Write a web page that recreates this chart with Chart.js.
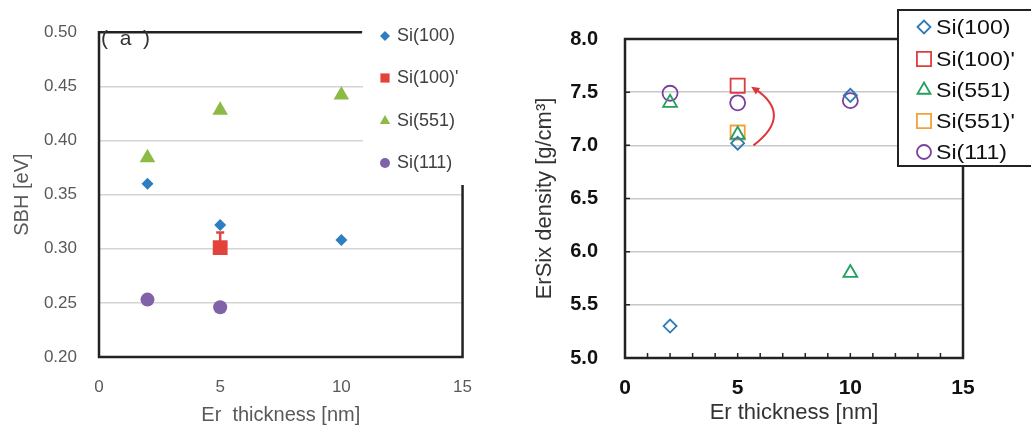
<!DOCTYPE html>
<html>
<head>
<meta charset="utf-8">
<script src="https://cdn.jsdelivr.net/npm/chart.js@4.4.0/dist/chart.umd.min.js"></script>
<style>
body { margin: 0; background: #fff; width: 1031px; height: 428px; overflow: hidden; position: relative; }
#boxA { position: absolute; left: 0; top: 0; width: 492px; height: 428px; }
#boxB { position: absolute; left: 520px; top: 0; width: 511px; height: 428px; }
</style>
</head>
<body>
<div id="boxA"><canvas id="sbh"></canvas></div>
<div id="boxB"><canvas id="density"></canvas></div>
<script>
var thicknessTicks = [0, 5, 10, 15];

// (a) SBH [eV] vs Er thickness
var sbhSi100X = [2, 5, 10];
var sbhSi100 = [0.360, 0.322, 0.308];
var sbhSi100pX = [5];
var sbhSi100p = [0.301];
var sbhSi100pErr = [0.014];
var sbhSi551X = [2, 5, 10];
var sbhSi551 = [0.384, 0.428, 0.442];
var sbhSi111X = [2, 5];
var sbhSi111 = [0.253, 0.246];
var sbhLabels = ["Si(100)", "Si(100)'", "Si(551)", "Si(111)"];

// (b) ErSix density [g/cm3] vs Er thickness
var denSi100X = [2, 5, 10];
var denSi100 = [5.30, 7.02, 7.47];
var denSi100pX = [5];
var denSi100p = [7.56];
var denSi551X = [2, 5, 10];
var denSi551 = [7.40, 7.10, 5.80];
var denSi551pX = [5];
var denSi551p = [7.12];
var denSi111X = [2, 5, 10];
var denSi111 = [7.49, 7.40, 7.42];
var denLabels = ["Si(100)", "Si(100)'", "Si(551)", "Si(551)'", "Si(111)"];
// arrow: start, control, end (in data units)
var arrowPath = [[5.7, 7.0], [7.5, 7.29], [5.6, 7.55]];

var FONT = "'Liberation Sans', Arial, sans-serif";

function pts(xs, ys) {
  return xs.map(function (x, i) { return { x: x, y: ys[i] }; });
}

function mark(ctx, style, r, fill, stroke, bw, x, y) {
  ctx.save();
  ctx.fillStyle = fill;
  ctx.strokeStyle = stroke;
  ctx.lineWidth = bw;
  Chart.helpers.drawPoint(ctx, { pointStyle: style, radius: r, rotation: 0, borderWidth: bw }, x, y);
  ctx.restore();
}

// ---------- chart (a) ----------
var colA = ["#2e7dc2", "#e2443c", "#8cbb45", "#8062a9"];

var frameA = {
  id: 'frameA',
  afterDraw: function (chart) {
    var ctx = chart.ctx, ca = chart.chartArea;
    var x = chart.scales.x, y = chart.scales.y;
    ctx.save();
    // legend area over the plot
    ctx.fillStyle = '#fff';
    ctx.fillRect(363, 0, 140, 183);
    // error bar on Si(100)'
    var ex = x.getPixelForValue(sbhSi100pX[0]);
    var e0 = y.getPixelForValue(sbhSi100p[0]);
    var e1 = y.getPixelForValue(sbhSi100p[0] + sbhSi100pErr[0]);
    ctx.strokeStyle = colA[1];
    ctx.lineWidth = 2.5;
    ctx.beginPath();
    ctx.moveTo(ex, e0); ctx.lineTo(ex, e1);
    ctx.moveTo(ex - 4, e1); ctx.lineTo(ex + 4, e1);
    ctx.stroke();
    // frame
    ctx.strokeStyle = '#222';
    ctx.lineWidth = 2.5;
    ctx.beginPath();
    ctx.moveTo(362, ca.top); ctx.lineTo(ca.left, ca.top);
    ctx.lineTo(ca.left, ca.bottom); ctx.lineTo(ca.right, ca.bottom);
    ctx.lineTo(ca.right, 185);
    ctx.stroke();
    // panel label
    ctx.fillStyle = '#333';
    ctx.font = '21px ' + FONT;
    ctx.textBaseline = 'middle';
    ctx.fillText('(  a  )', 101, 39);
    // legend
    var styles = ['rectRot', 'rect', 'triangle', 'circle'];
    var radii = [5, 6.5, 6, 5];
    var ys = [36, 78, 121, 163];
    ctx.font = '18px ' + FONT;
    for (var i = 0; i < 4; i++) {
      mark(ctx, styles[i], radii[i], colA[i], colA[i], 0, 385, ys[i]);
      ctx.fillStyle = '#404040';
      ctx.fillText(sbhLabels[i], 397, ys[i]);
    }
    ctx.restore();
  }
};

new Chart(document.getElementById('sbh'), {
  type: 'scatter',
  data: {
    datasets: [
      { label: sbhLabels[0], data: pts(sbhSi100X, sbhSi100), pointStyle: 'rectRot', pointRadius: 6, backgroundColor: colA[0], borderColor: colA[0], borderWidth: 0 },
      { label: sbhLabels[1], data: pts(sbhSi100pX, sbhSi100p), pointStyle: 'rect', pointRadius: 10.5, backgroundColor: colA[1], borderColor: colA[1], borderWidth: 0 },
      { label: sbhLabels[2], data: pts(sbhSi551X, sbhSi551), pointStyle: 'triangle', pointRadius: 9, backgroundColor: colA[2], borderColor: colA[2], borderWidth: 0 },
      { label: sbhLabels[3], data: pts(sbhSi111X, sbhSi111), pointStyle: 'circle', pointRadius: 7, backgroundColor: colA[3], borderColor: colA[3], borderWidth: 0 }
    ]
  },
  options: {
    responsive: true,
    maintainAspectRatio: false,
    animation: false,
    layout: { padding: { left: 0, right: 5, top: 19, bottom: 0 } },
    plugins: { legend: { display: false }, tooltip: { enabled: false } },
    scales: {
      x: {
        type: 'linear', min: 0, max: 15,
        afterBuildTicks: function (s) { s.ticks = thicknessTicks.map(function (v) { return { value: v }; }); },
        afterFit: function (s) { s.height = 71; },
        grid: { display: false, drawTicks: false },
        border: { display: false },
        ticks: { padding: 20, color: '#595959', font: { family: FONT, size: 17 } },
        title: { display: true, text: 'Er  thickness [nm]', color: '#595959', font: { family: FONT, size: 20 }, padding: { top: 0, bottom: 1 } }
      },
      y: {
        min: 0.2, max: 0.5,
        afterFit: function (s) { s.width = 99; },
        grid: { color: '#d4d4d4', lineWidth: 1.5, drawTicks: false },
        border: { display: false },
        ticks: { stepSize: 0.05, padding: 22, color: '#595959', font: { family: FONT, size: 17 },
          callback: function (v) { return v.toFixed(2); } },
        title: { display: true, text: 'SBH [eV]', color: '#595959', font: { family: FONT, size: 20 }, padding: { top: 10, bottom: 4 } }
      }
    }
  },
  plugins: [frameA]
});

// ---------- chart (b) ----------
var colB = ["#2c7bb6", "#e03c3c", "#22a060", "#f4a236", "#7b3f9e"];

var frameB = {
  id: 'frameB',
  afterDraw: function (chart) {
    var ctx = chart.ctx, ca = chart.chartArea;
    var x = chart.scales.x, y = chart.scales.y;
    ctx.save();
    // inner ticks
    ctx.strokeStyle = '#222';
    ctx.lineWidth = 1.5;
    ctx.beginPath();
    for (var v = 1; v < 15; v++) {
      var px = x.getPixelForValue(v);
      ctx.moveTo(px, ca.bottom); ctx.lineTo(px, ca.bottom - 5);
    }
    y.ticks.forEach(function (t) {
      var py = y.getPixelForValue(t.value);
      ctx.moveTo(ca.left, py); ctx.lineTo(ca.left + 5, py);
    });
    ctx.stroke();
    // frame
    ctx.lineWidth = 2.5;
    ctx.beginPath();
    ctx.moveTo(378, ca.top); ctx.lineTo(ca.left, ca.top);
    ctx.lineTo(ca.left, ca.bottom); ctx.lineTo(ca.right, ca.bottom);
    ctx.lineTo(ca.right, 166);
    ctx.stroke();
    // arrow
    var p0 = arrowPath[0], p1 = arrowPath[1], p2 = arrowPath[2];
    var sx = x.getPixelForValue(p0[0]), sy = y.getPixelForValue(p0[1]);
    var cx = x.getPixelForValue(p1[0]), cy = y.getPixelForValue(p1[1]);
    var tx = x.getPixelForValue(p2[0]), ty = y.getPixelForValue(p2[1]);
    ctx.strokeStyle = '#e0343a';
    ctx.fillStyle = '#e0343a';
    ctx.lineWidth = 2;
    ctx.beginPath();
    ctx.moveTo(sx, sy);
    ctx.quadraticCurveTo(cx, cy, tx + 3, ty + 1.5);
    ctx.stroke();
    var ang = Math.atan2(ty - cy, tx - cx);
    ctx.beginPath();
    ctx.moveTo(tx, ty);
    ctx.lineTo(tx - 9 * Math.cos(ang - 0.45), ty - 9 * Math.sin(ang - 0.45));
    ctx.lineTo(tx - 9 * Math.cos(ang + 0.45), ty - 9 * Math.sin(ang + 0.45));
    ctx.closePath();
    ctx.fill();
    // legend box
    ctx.fillStyle = '#fff';
    ctx.fillRect(378, 10, 150, 156);
    ctx.strokeStyle = '#222';
    ctx.lineWidth = 2;
    ctx.strokeRect(378, 10, 150, 156);
    var styles = ['rectRot', 'rect', 'triangle', 'rect', 'circle'];
    var radii = [6.5, 10, 7.5, 10, 7];
    var ys = [27, 59, 90, 121, 152];
    ctx.font = '21px ' + FONT;
    ctx.textBaseline = 'middle';
    for (var i = 0; i < 5; i++) {
      mark(ctx, styles[i], radii[i], 'rgba(0,0,0,0)', colB[i], 1.8, 404, ys[i]);
      ctx.save();
      ctx.translate(416, ys[i] + 1);
      ctx.scale(1.1, 1);
      ctx.fillStyle = '#111';
      ctx.fillText(denLabels[i], 0, 0);
      ctx.restore();
    }
    ctx.restore();
  }
};

function hollow(label, xs, ys, style, r, c) {
  return { label: label, data: pts(xs, ys), pointStyle: style, pointRadius: r,
    backgroundColor: 'rgba(0,0,0,0)', borderColor: c, borderWidth: 1.8 };
}

new Chart(document.getElementById('density'), {
  type: 'scatter',
  data: {
    datasets: [
      hollow(denLabels[0], denSi100X, denSi100, 'rectRot', 6.5, colB[0]),
      hollow(denLabels[1], denSi100pX, denSi100p, 'rect', 10, colB[1]),
      hollow(denLabels[2], denSi551X, denSi551, 'triangle', 8, colB[2]),
      hollow(denLabels[3], denSi551pX, denSi551p, 'rect', 10, colB[3]),
      hollow(denLabels[4], denSi111X, denSi111, 'circle', 7.5, colB[4])
    ]
  },
  options: {
    responsive: true,
    maintainAspectRatio: false,
    animation: false,
    layout: { padding: { left: 0, right: 68, top: 19, bottom: 0 } },
    plugins: { legend: { display: false }, tooltip: { enabled: false } },
    scales: {
      x: {
        type: 'linear', min: 0, max: 15,
        afterBuildTicks: function (s) { s.ticks = thicknessTicks.map(function (v) { return { value: v }; }); },
        afterFit: function (s) { s.height = 70; },
        grid: { display: false, drawTicks: false },
        border: { display: false },
        ticks: { padding: 18, color: '#111', font: { family: FONT, size: 21, weight: 'bold' } },
        title: { display: true, text: 'Er thickness [nm]', color: '#333', font: { family: FONT, size: 22 }, padding: { top: 0, bottom: 2 } }
      },
      y: {
        min: 5.0, max: 8.0,
        afterFit: function (s) { s.width = 105; },
        grid: { color: '#c8c8c8', lineWidth: 1.5, drawTicks: false },
        border: { display: false },
        ticks: { stepSize: 0.5, padding: 27, color: '#111', font: { family: FONT, size: 20, weight: 'bold' },
          callback: function (v) { return v.toFixed(1); } },
        title: { display: true, text: 'ErSix density [g/cm\u00b3]', color: '#333', font: { family: FONT, size: 22 }, padding: { top: 12, bottom: 4 } }
      }
    }
  },
  plugins: [frameB]
});
</script>
</body>
</html>
